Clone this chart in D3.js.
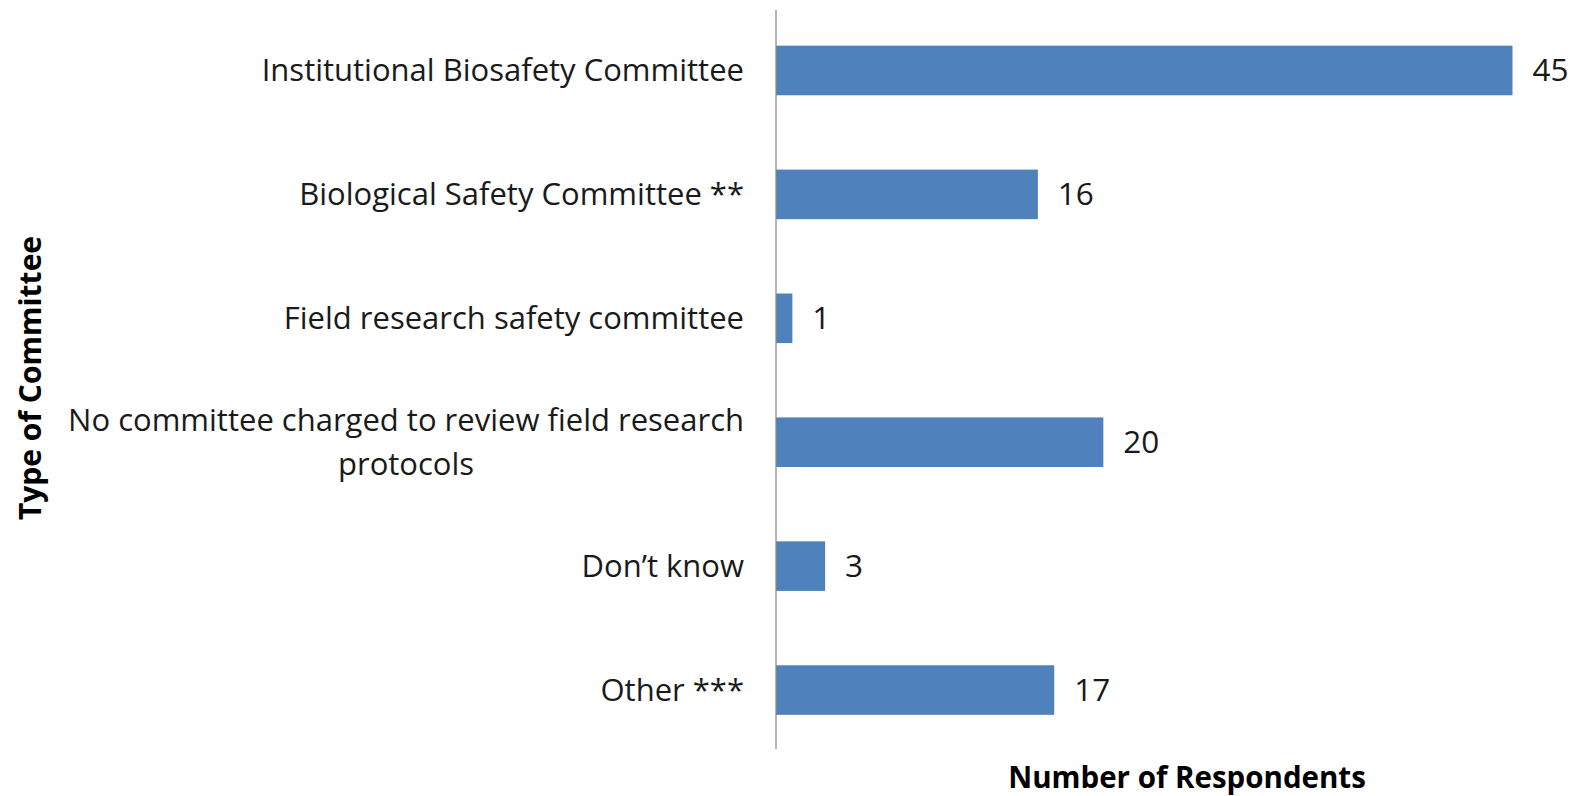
<!DOCTYPE html>
<html><head><meta charset="utf-8">
<script src="https://cdn.jsdelivr.net/npm/d3@7"></script>
<style>
html,body{margin:0;padding:0;background:#fff;}
svg{display:block;}
text{font-family:"Open Sans",sans-serif;}
</style></head>
<body>
<svg id="chart" width="1582" height="796"></svg>
<script>
const categories = [
  ["Institutional Biosafety Committee"],
  ["Biological Safety Committee **"],
  ["Field research safety committee"],
  ["No committee charged to review field research", "protocols"],
  ["Don\u2019t know"],
  ["Other ***"]
];
const values = [45, 16, 1, 20, 3, 17];
const xTitle = "Number of Respondents";
const yTitle = "Type of Committee";

const svg = d3.select("#chart");
const x0 = 776, x1 = 1512.5;
const x = d3.scaleLinear().domain([0, 45]).range([x0, x1]);
const y = d3.scaleBand().domain(d3.range(values.length)).range([8.5, 752])
  .paddingInner(0.6).paddingOuter(0.3);

svg.selectAll("rect.bar").data(values).join("rect")
  .attr("class","bar")
  .attr("x", x(0))
  .attr("y", (d,i)=>y(i))
  .attr("width", d=>x(d)-x(0))
  .attr("height", y.bandwidth())
  .attr("fill","#4F81BD");

svg.append("line").attr("x1",x0).attr("x2",x0).attr("y1",10).attr("y2",749)
  .attr("stroke","#868686").attr("stroke-width",1.2);

const fs = 31;
svg.selectAll("text.val").data(values).join("text")
  .attr("class","val")
  .attr("x", d=>x(d)+20)
  .attr("y", (d,i)=>y(i)+y.bandwidth()/2)
  .attr("dy","0.35em")
  .attr("font-size", 31.5)
  .attr("fill","#1a1a1a")
  .text(d=>d);

const lineH = 43.5;
const labelRight = 744;
categories.forEach((lines,i)=>{
  const cy = y(i)+y.bandwidth()/2;
  const g = svg.append("text").attr("font-size",fs).attr("fill","#1a1a1a");
  const n = lines.length;
  const spans = lines.map((l,k)=>g.append("tspan").text(l)
      .attr("y", cy + (k-(n-1)/2)*lineH).attr("dy","0.35em"));
  const w = d3.max(spans.map(s=>s.node().getComputedTextLength()));
  spans.forEach(s=>s.attr("x", labelRight - w/2).attr("text-anchor","middle"));
});

svg.append("text").attr("x",1187).attr("y",778).attr("dy","0.35em")
  .attr("text-anchor","middle").attr("font-size",29.5).attr("font-weight","bold")
  .attr("fill","#000").text(xTitle);

svg.append("text").attr("transform","translate(30,378) rotate(-90)")
  .attr("dy","0.35em")
  .attr("text-anchor","middle").attr("font-size",30).attr("font-weight","bold")
  .attr("fill","#000").text(yTitle);
</script>
</body></html>
